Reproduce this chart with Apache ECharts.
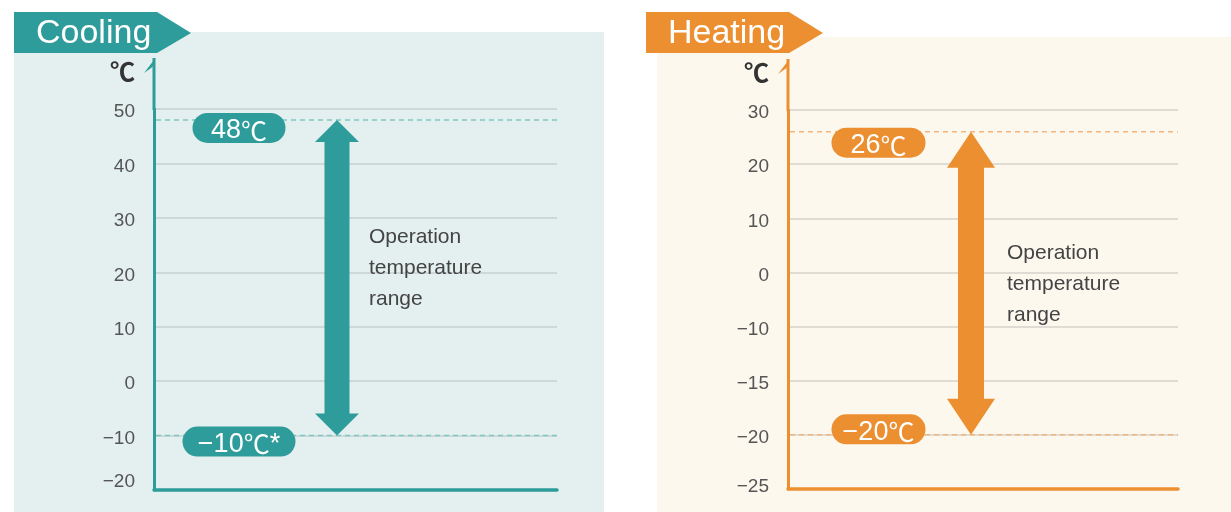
<!DOCTYPE html>
<html>
<head>
<meta charset="utf-8">
<title>Operation temperature range</title>
<script src="https://cdn.jsdelivr.net/npm/echarts@6/dist/echarts.min.js"></script>
<style>
  html, body { margin: 0; padding: 0; background: #ffffff; }
  #chart { width: 1231px; height: 512px; }
</style>
</head>
<body>
<div id="chart"></div>
<script>
// ---- data ----
const panelTitles = ['Cooling', 'Heating'];
const unitLabel = '℃';
const coolingTicks = [-20, -10, 0, 10, 20, 30, 40, 50];
const heatingTicks = [-25, -20, -15, -10, 0, 10, 20, 30];
const coolingRange = [-10, 48];          // [low, high]
const heatingRange = [-20, 26];          // [low, high]
const coolingRangeLabels = ['−10℃*', '48℃'];
const heatingRangeLabels = ['−20℃', '26℃'];
const rangeNote = ['Operation', 'temperature', 'range'];

// ---- helpers ----
const FONT = "'Liberation Sans', Arial, sans-serif";
const CJK = "'Noto Sans CJK JP', 'Noto Sans CJK SC', sans-serif";
const minus = v => String(v).replace('-', '−');
// the degree sign is set in a CJK face so that it stays one compact glyph
const withUnit = s => '{d|' + s.replace('℃', '}{u|℃}{d|') + '}';

// Heating axis ticks are evenly spaced but not evenly valued:
// map a temperature to its position between the neighbouring ticks.
function toSlot(ticks, v) {
  for (let i = 0; i < ticks.length - 1; i++) {
    if (v >= ticks[i] && v <= ticks[i + 1]) {
      return i + (v - ticks[i]) / (ticks[i + 1] - ticks[i]);
    }
  }
  return v < ticks[0] ? 0 : ticks.length - 1;
}

const theme = {
  cooling: {
    main: '#2e9c9a', dash: '#7fc7c2', grid: '#cdd9d9', bg: '#e3f0ef',
    headW: 22, headH: 22, shaftW: 12.5,
    pillX: 85, pillW: [113, 93], pillDy: [6, 8], noteDx: 32, noteDy: -10,
    minLabelLift: 16
  },
  heating: {
    main: '#eb8f30', dash: '#f1b57c', grid: '#e0dcd3', bg: '#fdf8ee',
    headW: 24, headH: 36, shaftW: 13,
    pillX: 90.5, pillW: [94, 94], pillDy: [-5.5, 11], noteDx: 36, noteDy: 1,
    minLabelLift: 4
  }
};
const ARROW_X = 183;   // arrow centre, measured from the plot's left edge
const STEM = 51;       // axis line extension above the plot
const PILL_H = 30;

function rangeRenderer(t, labels) {
  return function (params, api) {
    const cs = params.coordSys;
    const yLo = api.coord([0, api.value(1)])[1];
    const yHi = api.coord([0, api.value(2)])[1];
    const ax = cs.x + ARROW_X;
    const x0 = cs.x, x1 = cs.x + cs.width;
    const dash = y => ({
      type: 'line',
      shape: { x1: x0 + 2, y1: y, x2: x1, y2: y },
      style: { stroke: t.dash, lineWidth: 1.5, lineDash: [5, 4] }
    });
    const pill = (text, w, y) => {
      const cx = cs.x + t.pillX;
      return {
        type: 'group',
        children: [
          {
            type: 'rect',
            shape: { x: cx - w / 2, y: y - PILL_H / 2, width: w, height: PILL_H, r: PILL_H / 2 },
            style: { fill: t.main }
          },
          {
            type: 'text',
            style: {
              text: withUnit(text), x: cx, y: y + 3,
              fill: '#ffffff', align: 'center', verticalAlign: 'middle',
              rich: {
                d: { fontFamily: FONT, fontSize: 27, lineHeight: 30, fill: '#ffffff', verticalAlign: 'middle' },
                u: { fontFamily: CJK, fontSize: 26, lineHeight: 30, fill: '#ffffff', verticalAlign: 'middle' }
              }
            }
          }
        ]
      };
    };
    const arrow = {
      type: 'polygon',
      shape: {
        points: [
          [ax, yHi], [ax + t.headW, yHi + t.headH], [ax + t.shaftW, yHi + t.headH],
          [ax + t.shaftW, yLo - t.headH], [ax + t.headW, yLo - t.headH], [ax, yLo],
          [ax - t.headW, yLo - t.headH], [ax - t.shaftW, yLo - t.headH],
          [ax - t.shaftW, yHi + t.headH], [ax - t.headW, yHi + t.headH]
        ]
      },
      style: { fill: t.main }
    };
    const note = {
      type: 'text',
      style: {
        text: rangeNote.join('\n'),
        x: ax + t.noteDx, y: (yHi + yLo) / 2 + t.noteDy,
        fill: '#444444', font: '21px ' + FONT, lineHeight: 31,
        align: 'left', verticalAlign: 'middle'
      }
    };
    // axis line continues above the plot and ends in a half arrow head
    const stem = {
      type: 'line',
      shape: { x1: cs.x, y1: cs.y + 1, x2: cs.x, y2: cs.y - STEM },
      style: { stroke: t.main, lineWidth: 3 }
    };
    const barb = {
      type: 'polygon',
      shape: {
        points: [[cs.x + 1.5, cs.y - STEM], [cs.x - 10, cs.y - STEM + 15], [cs.x - 1.5, cs.y - STEM + 9]]
      },
      style: { fill: t.main }
    };
    return {
      type: 'group',
      children: [
        dash(yHi), dash(yLo), arrow, note,
        pill(labels[0], t.pillW[0], yLo + t.pillDy[0]),
        pill(labels[1], t.pillW[1], yHi + t.pillDy[1]),
        stem, barb
      ]
    };
  };
}

function yAxisBase(t, textOf, minValue) {
  return {
    type: 'value',
    name: '{u|' + unitLabel + '}',
    nameLocation: 'end',
    nameGap: 25,
    nameTextStyle: {
      align: 'right', padding: [0, 19, 0, 0],
      rich: { u: { color: '#333333', fontSize: 25, fontFamily: CJK, fontWeight: 'bold' } }
    },
    axisLine: { show: true, lineStyle: { color: t.main, width: 3 } },
    axisTick: { show: false },
    axisLabel: {
      margin: 19,
      formatter: v => (v === minValue ? '{lo|' : '{n|') + textOf(v) + '}',
      rich: {
        n: { color: '#555555', fontSize: 19, fontFamily: FONT, padding: [6, 0, 0, 0] },
        lo: { color: '#555555', fontSize: 19, fontFamily: FONT, padding: [0, 0, t.minLabelLift, 0] }
      }
    },
    splitLine: { show: true, lineStyle: { color: t.grid, width: 2 } }
  };
}

function xAxisBase(t, gridIndex) {
  return {
    type: 'value', gridIndex: gridIndex, min: 0, max: 1,
    axisLine: { show: true, onZero: false, lineStyle: { color: t.main, width: 3.5 } },
    axisTick: { show: false }, axisLabel: { show: false }, splitLine: { show: false }
  };
}

const chart = echarts.init(document.getElementById('chart'), null, { renderer: 'canvas' });

const tab = (x, color, title) => ({
  type: 'group',
  children: [
    {
      type: 'polygon',
      shape: { points: [[x, 12], [x + 143, 12], [x + 177, 33], [x + 143, 53], [x, 53]] },
      style: { fill: color }
    },
    {
      type: 'text',
      style: { text: title, x: x + 22, y: 34, fill: '#ffffff', font: '34px ' + FONT, align: 'left', verticalAlign: 'middle' }
    }
  ]
});

chart.setOption({
  animation: false,
  backgroundColor: '#ffffff',
  graphic: [
    { type: 'rect', z: -10, shape: { x: 14, y: 32, width: 590, height: 480 }, style: { fill: theme.cooling.bg } },
    { type: 'rect', z: -10, shape: { x: 657, y: 37, width: 574, height: 475 }, style: { fill: theme.heating.bg } },
    tab(14, theme.cooling.main, panelTitles[0]),
    tab(646, theme.heating.main, panelTitles[1])
  ],
  grid: [
    { left: 154, top: 109, width: 403, height: 381 },
    { left: 788, top: 110, width: 390, height: 379 }
  ],
  xAxis: [xAxisBase(theme.cooling, 0), xAxisBase(theme.heating, 1)],
  yAxis: [
    Object.assign(yAxisBase(theme.cooling, v => minus(v), coolingTicks[0]), {
      gridIndex: 0,
      min: coolingTicks[0], max: coolingTicks[coolingTicks.length - 1], interval: 10
    }),
    Object.assign(yAxisBase(theme.heating, v => minus(heatingTicks[Math.round(v)]), 0), {
      gridIndex: 1,
      min: 0, max: heatingTicks.length - 1, interval: 1
    })
  ],
  series: [
    {
      type: 'custom', xAxisIndex: 0, yAxisIndex: 0, clip: false, z: 5,
      renderItem: rangeRenderer(theme.cooling, coolingRangeLabels),
      encode: { x: 0, y: [1, 2] },
      data: [[0, coolingRange[0], coolingRange[1]]]
    },
    {
      type: 'custom', xAxisIndex: 1, yAxisIndex: 1, clip: false, z: 5,
      renderItem: rangeRenderer(theme.heating, heatingRangeLabels),
      encode: { x: 0, y: [1, 2] },
      data: [[0, toSlot(heatingTicks, heatingRange[0]), toSlot(heatingTicks, heatingRange[1])]]
    }
  ]
});
</script>
</body>
</html>
